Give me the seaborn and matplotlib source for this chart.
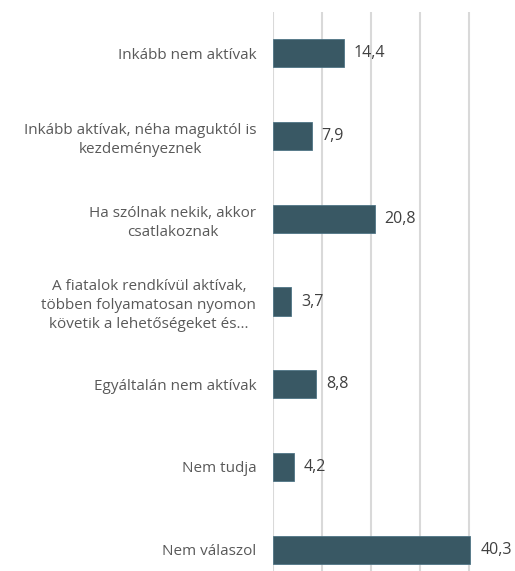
import pandas as pd
import matplotlib
matplotlib.use("Agg")
import matplotlib.pyplot as plt
import seaborn as sns

categories = [
    "Inkább nem aktívak",
    "Inkább aktívak, néha maguktól is\nkezdeményeznek",
    "Ha szólnak nekik, akkor\ncsatlakoznak",
    "A fiatalok rendkívül aktívak,\ntöbben folyamatosan nyomon\nkövetik a lehetőségeket és...",
    "Egyáltalán nem aktívak",
    "Nem tudja",
    "Nem válaszol",
]
values = [14.4, 7.9, 20.8, 3.7, 8.8, 4.2, 40.3]
value_labels = ["14,4", "7,9", "20,8", "3,7", "8,8", "4,2", "40,3"]

df = pd.DataFrame({"category": categories, "value": values})

sns.set_style("white")
plt.rcParams["font.family"] = ["Open Sans", "DejaVu Sans"]

fig = plt.figure(figsize=(5.15, 5.71), dpi=100)
# axes deliberately run slightly past the right/bottom edge, like the cropped original
ax = fig.add_axes([273 / 515, -20 / 571, 245 / 515, 579 / 571])

sns.barplot(data=df, x="value", y="category", color="#325B6B", width=0.34,
            edgecolor="#4F7585", linewidth=0.6, ax=ax, zorder=3)

ax.set_xlim(0, 50)
ax.set_xticks([0, 10, 20, 30, 40, 50])
ax.xaxis.grid(True, color="#D9D9D9", linewidth=1.5, zorder=0)
ax.set_axisbelow(True)
ax.tick_params(axis="x", length=0, labelbottom=False)
ax.tick_params(axis="y", length=0, pad=12)
for s in ax.spines.values():
    s.set_visible(False)
ax.set_xlabel("")
ax.set_ylabel("")

for lab in ax.get_yticklabels():
    lab.set_fontsize(11)
    lab.set_color("#595959")
    lab.set_multialignment("center")
    lab.set_linespacing(1.35)

for i, (v, t) in enumerate(zip(values, value_labels)):
    ax.text(v + 2.0, i, t, va="center", ha="left", fontsize=11.5, color="#404040")

fig.savefig("out.png", dpi=100)
